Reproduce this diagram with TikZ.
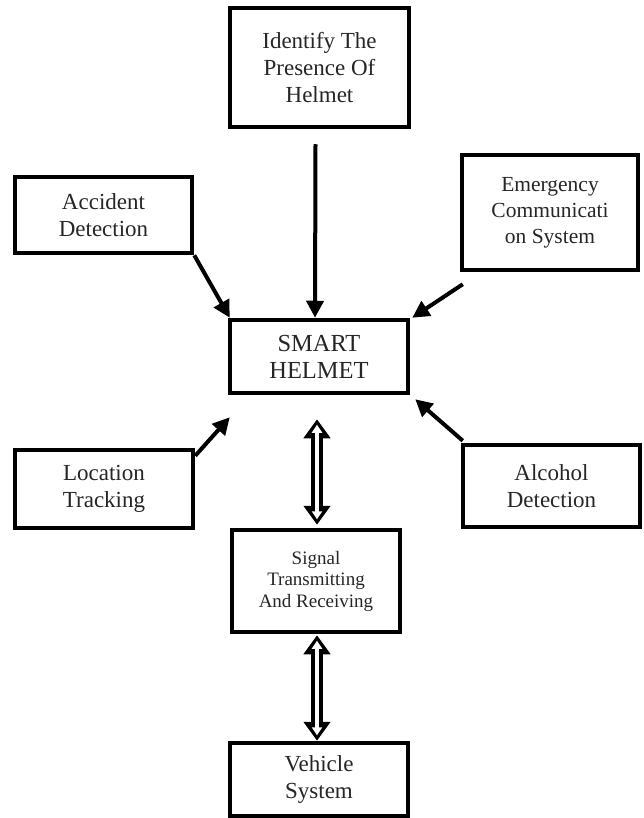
\documentclass[tikz,border=0pt]{standalone}
\usepackage{fontspec}
\setmainfont{Liberation Serif}
\usetikzlibrary{arrows.meta}
\tikzset{
  box/.style={draw, line width=4.5pt, inner sep=0pt, align=center, text=black!85,
    font=\fontsize{23}{27}\selectfont},
  arr/.style={line width=4pt, -{Triangle[length=17pt,width=17pt]}},
  dblout/.style={line width=12pt,
    {Triangle[length=19pt,width=26pt]}-{Triangle[length=19pt,width=26pt]}},
  dblin/.style={draw=white, line width=4pt, shorten <=5.5pt, shorten >=5.5pt,
    {Triangle[length=8pt,width=10pt,fill=white]}-{Triangle[length=8pt,width=10pt,fill=white]}}
}
\begin{document}
\begin{tikzpicture}[x=1pt,y=-1pt]
\useasboundingbox (0,0) rectangle (644,818);
\node[box, minimum width=179pt, minimum height=119pt] (top) at (319.5,67.5) {Identify The\\Presence Of\\Helmet};
\node[box, minimum width=177pt, minimum height=76pt] (acc) at (103.5,215) {Accident\\Detection};
\node[box, minimum width=176pt, minimum height=115pt, font=\fontsize{21.5}{26}\selectfont] (emg) at (550,212.5) {Emergency\\Communicati\\on System};
\node[box, minimum width=178pt, minimum height=73pt, font=\fontsize{24.5}{27}\selectfont] (smart) at (319,356.5) {SMART\\HELMET};
\node[box, minimum width=178pt, minimum height=78pt] (loc) at (104,489) {Location\\Tracking};
\node[box, minimum width=177pt, minimum height=82pt] (alc) at (551.5,486) {Alcohol\\Detection};
\node[box, minimum width=168pt, minimum height=102pt, font=\fontsize{19}{21.5}\selectfont] (sig) at (316,581) {Signal\\Transmitting\\And Receiving};
\node[box, minimum width=178pt, minimum height=73pt] (veh) at (319,779.5) {Vehicle\\System};

\draw[arr] ([xshift=-4pt,yshift=-15pt]top.south) -- ([xshift=-4pt]smart.north);
\draw[arr] (acc.south east) -- ([xshift=2pt]smart.north west);
\draw[arr] ([xshift=3pt,yshift=-12pt]emg.south west) -- ([xshift=2pt]smart.north east);
\draw[arr] ([yshift=-8pt]loc.north east) -- ([xshift=2pt,yshift=-22pt]smart.south west);
\draw[arr] ([xshift=2pt,yshift=2pt]alc.north west) -- ([xshift=5pt,yshift=-4pt]smart.south east);

\coordinate (d1a) at ([xshift=-2pt,yshift=-24pt]smart.south);
\coordinate (d1b) at ([xshift=1pt,yshift=3pt]sig.north);
\coordinate (d2a) at ([xshift=1pt,yshift=-1pt]sig.south);
\coordinate (d2b) at ([xshift=-2pt]veh.north);
\draw[dblout] (d1a) -- (d1b);
\draw[dblin] (d1a) -- (d1b);
\draw[dblout] (d2a) -- (d2b);
\draw[dblin] (d2a) -- (d2b);
\end{tikzpicture}
\end{document}
